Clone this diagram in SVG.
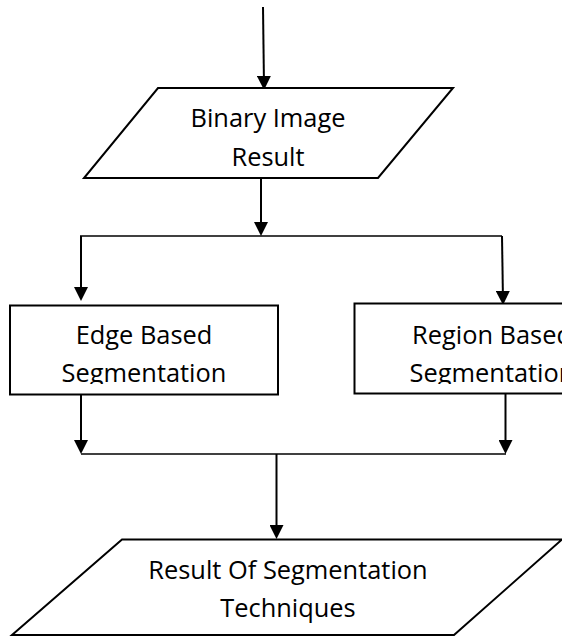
<svg xmlns="http://www.w3.org/2000/svg" width="562" height="637" viewBox="0 0 562 637">
  <style>
    .shape { fill: #ffffff; stroke: #000000; stroke-width: 2; }
    .label { font-family: "Open Sans", "DejaVu Sans", sans-serif; font-size: 25.4px; fill: #000000; text-anchor: middle; }
    .wire { fill: none; stroke: #000000; stroke-width: 2; }
    .bus { fill: none; stroke: #000000; stroke-width: 1.5; }
  </style>
  <defs>
    <marker id="arrow" viewBox="0 0 14 14" refX="10" refY="7" markerWidth="14" markerHeight="14" markerUnits="userSpaceOnUse" orient="auto">
      <path d="M0,0 L14,7 L0,14 Z" fill="#000000"/>
    </marker>
    <clipPath id="clipBoxText">
      <rect x="0" y="300" width="562" height="84"/>
    </clipPath>
  </defs>
  <rect x="0" y="0" width="562" height="637" fill="#ffffff"/>

  <g id="connectors">
    <line class="wire" x1="263" y1="7" x2="264" y2="86" marker-end="url(#arrow)"/>
    <line class="wire" x1="261" y1="178" x2="261" y2="232" marker-end="url(#arrow)"/>
    <line class="bus" x1="80" y1="236" x2="502" y2="236"/>
    <line class="wire" x1="81" y1="236" x2="81" y2="297" marker-end="url(#arrow)"/>
    <line class="wire" x1="502" y1="236" x2="503" y2="301" marker-end="url(#arrow)"/>
    <line class="wire" x1="81" y1="394" x2="81" y2="450" marker-end="url(#arrow)"/>
    <line class="wire" x1="505.5" y1="393" x2="505.5" y2="450" marker-end="url(#arrow)"/>
    <line class="bus" x1="81" y1="454" x2="506" y2="454"/>
    <line class="wire" x1="276.5" y1="454" x2="276.5" y2="535" marker-end="url(#arrow)"/>
  </g>

  <g id="node-binary-image-result">
    <polygon class="shape" points="158,88 453,88 378,178 84,178"/>
    <text class="label" x="268" y="127">Binary Image</text>
    <text class="label" x="268" y="166">Result</text>
  </g>

  <g id="node-edge-based">
    <rect class="shape" x="10" y="305.5" width="268" height="89"/>
    <g clip-path="url(#clipBoxText)">
      <text class="label" x="144" y="343.5">Edge Based</text>
      <text class="label" x="144" y="382">Segmentation</text>
    </g>
  </g>

  <g id="node-region-based">
    <rect class="shape" x="354.5" y="303.5" width="270" height="90"/>
    <g clip-path="url(#clipBoxText)">
      <text class="label" x="492" y="343.5">Region Based</text>
      <text class="label" x="492" y="382">Segmentation</text>
    </g>
  </g>

  <g id="node-result-of-segmentation">
    <polygon class="shape" points="122,539.5 562,539.5 454,635 12,635"/>
    <text class="label" x="288" y="578.5">Result Of Segmentation</text>
    <text class="label" x="288" y="617">Techniques</text>
  </g>
</svg>
